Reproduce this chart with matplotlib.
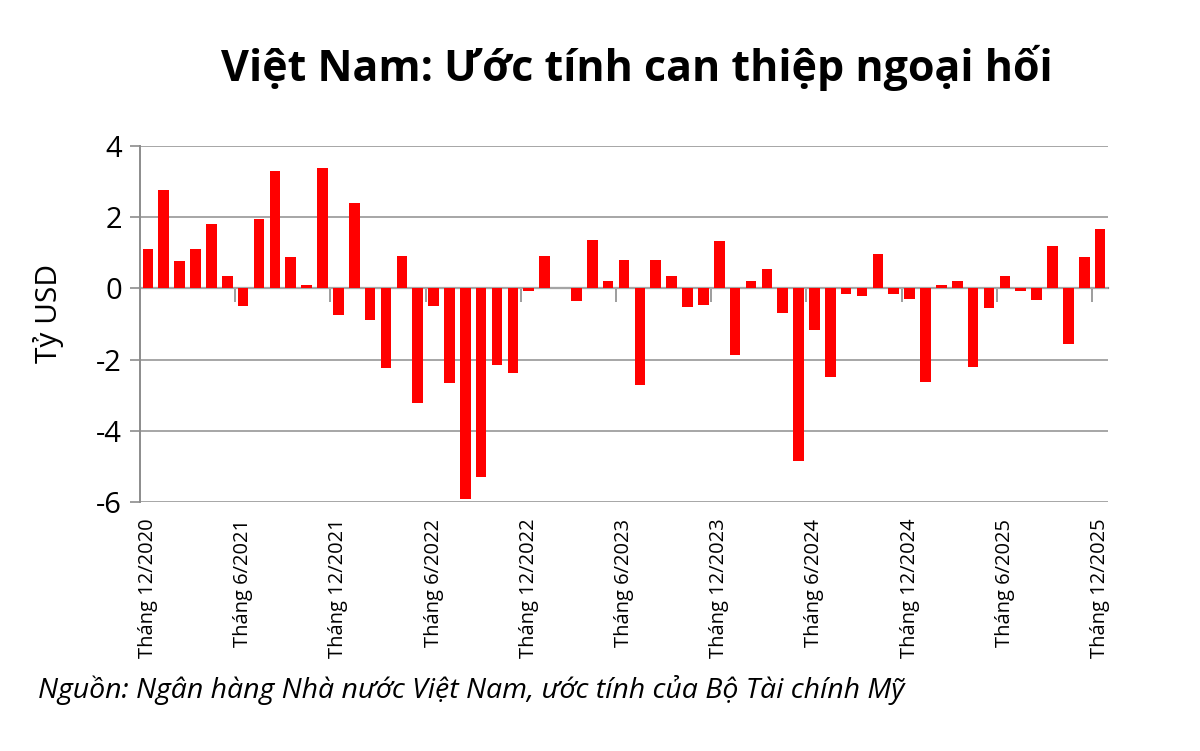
import matplotlib
matplotlib.use("Agg")
import matplotlib.pyplot as plt
import numpy as np

plt.rcParams['font.family'] = ['Open Sans', 'DejaVu Sans']

# Monthly estimated FX intervention (billion USD), Dec 2020 .. Dec 2025
values = [
    1.10, 2.77, 0.76, 1.10, 1.80, 0.35, -0.50, 1.94, 3.30, 0.88, 0.09, 3.38,
    -0.76, 2.40, -0.90, -2.24, 0.91, -3.23, -0.50, -2.65, -5.91, -5.31, -2.14, -2.37,
    -0.06, 0.92, 0.00, -0.35, 1.37, 0.20, 0.80, -2.71, 0.80, 0.34, -0.52, -0.47,
    1.32, -1.87, 0.21, 0.54, -0.69, -4.85, -1.18, -2.50, -0.16, -0.22, 0.98, -0.15,
    -0.31, -2.63, 0.09, 0.20, -2.20, -0.56, 0.35, -0.08, -0.33, 1.20, -1.57, 0.88,
    1.68,
]
label_idx = [0, 6, 12, 18, 24, 30, 36, 42, 48, 54, 60]
labels = ["Tháng 12/2020", "Tháng 6/2021", "Tháng 12/2021", "Tháng 6/2022",
          "Tháng 12/2022", "Tháng 6/2023", "Tháng 12/2023", "Tháng 6/2024",
          "Tháng 12/2024", "Tháng 6/2025", "Tháng 12/2025"]
yticks = [-6, -4, -2, 0, 2, 4]

title = "Việt Nam: Ước tính can thiệp ngoại hối"
ylabel = "Tỷ USD"
source = "Nguồn: Ngân hàng Nhà nước Việt Nam, ước tính của Bộ Tài chính Mỹ"

fig = plt.figure(figsize=(12, 7.51), dpi=100)
ax = fig.add_axes([140/1200, 1-502/751, (1108-140)/1200, (502-146)/751])

x = np.arange(len(values))
ax.bar(x, values, width=0.67, color='#ff0000', zorder=3)

ax.set_xlim(-0.5, len(values)-0.5)
ax.set_ylim(-6, 4)
ax.set_yticks(yticks)
ax.set_yticklabels([str(v) for v in yticks], fontsize=21)
ax.tick_params(axis='y', direction='out', length=7, width=1.2, color='#8c8c8c', pad=6)

ax.set_xticks(label_idx)
ax.set_xticklabels(labels, rotation=90, fontsize=14.5)
ax.tick_params(axis='x', length=0, pad=12)

for s in ['top', 'right', 'bottom']:
    ax.spines[s].set_visible(False)
ax.spines['left'].set_color('#8c8c8c')
ax.spines['left'].set_linewidth(1.4)

ax.grid(axis='y', color='#a6a6a6', linewidth=1.4, zorder=0)
ax.set_axisbelow(True)

# Category axis crossing at zero
sec = ax.secondary_xaxis(0, transform=ax.transData)
sec.set_xticks(np.arange(5.5, len(values)-1, 6))
sec.tick_params(axis='x', direction='out', length=10, width=1.2, color='#8c8c8c', labelbottom=False)
sec.spines['bottom'].set_color('#8c8c8c')
sec.spines['bottom'].set_linewidth(1.6)
sec.spines['bottom'].set_zorder(4)

ax.set_ylabel(ylabel, fontsize=21.5, va='center')
ax.yaxis.set_label_coords(-0.095, 0.53)

fig.text(0.531, 1-68/751, title, fontsize=31, fontweight='bold', ha='center', va='center')
fig.text(38/1200, 1-690/751, source, fontsize=20.5, style='italic', ha='left', va='center')

fig.savefig("out.png", dpi=100, facecolor='white')
